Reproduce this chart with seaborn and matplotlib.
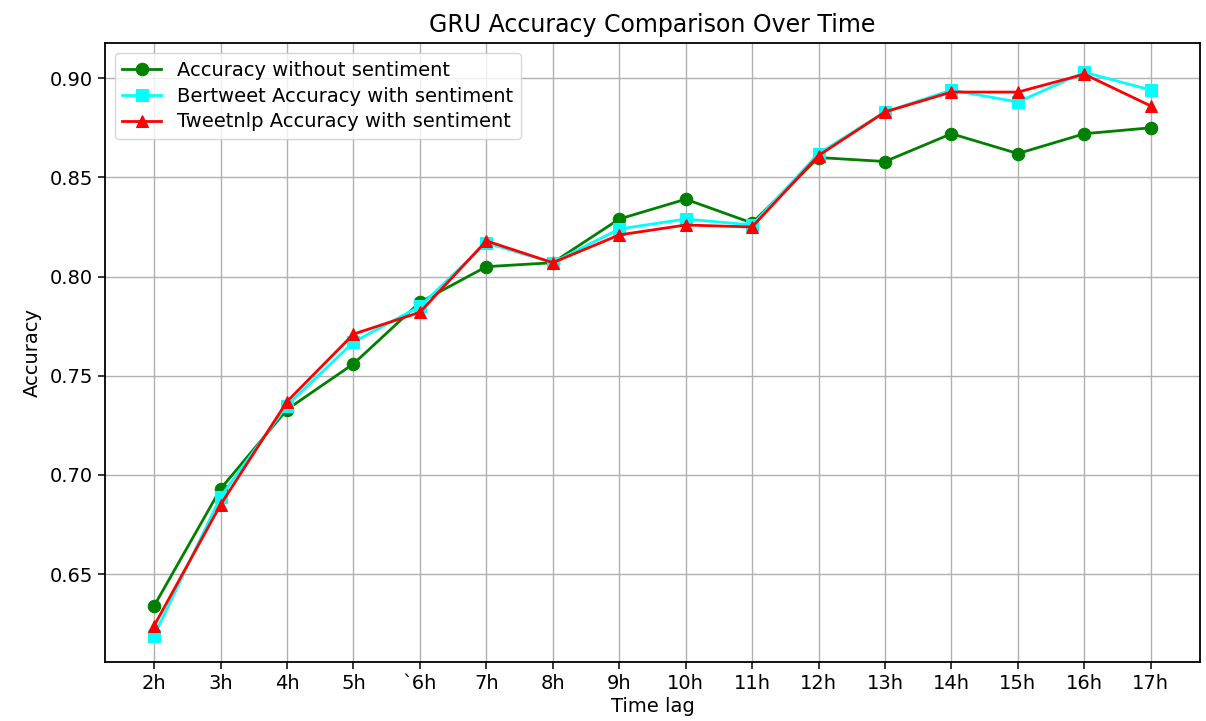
import matplotlib
matplotlib.use("Agg")
import matplotlib.pyplot as plt
import seaborn as sns
import pandas as pd

time_lags = ["2h", "3h", "4h", "5h", "`6h", "7h", "8h", "9h", "10h", "11h",
             "12h", "13h", "14h", "15h", "16h", "17h"]
acc_no_sent = [0.634, 0.693, 0.733, 0.756, 0.787, 0.805, 0.807, 0.829, 0.839, 0.827,
               0.860, 0.858, 0.872, 0.862, 0.872, 0.875]
acc_bertweet = [0.619, 0.689, 0.735, 0.767, 0.785, 0.817, 0.807, 0.824, 0.829, 0.826,
                0.862, 0.883, 0.894, 0.888, 0.903, 0.894]
acc_tweetnlp = [0.624, 0.685, 0.737, 0.771, 0.782, 0.818, 0.807, 0.821, 0.826, 0.825,
                0.861, 0.883, 0.893, 0.893, 0.902, 0.886]

series_names = ["Accuracy without sentiment",
                "Bertweet Accuracy with sentiment",
                "Tweetnlp Accuracy with sentiment"]
series_vals = [acc_no_sent, acc_bertweet, acc_tweetnlp]
colors = ["green", "cyan", "red"]
markers = ["o", "s", "^"]

plt.rcParams['font.family'] = ['DejaVu Sans']
fig = plt.figure(figsize=(12.06, 7.21), dpi=100)
ax = fig.add_axes([0.087, 0.082, 0.908, 0.858])

x = list(range(len(time_lags)))
for name, vals, c, m in zip(series_names, series_vals, colors, markers):
    df = pd.DataFrame({"x": x, "y": vals})
    sns.lineplot(data=df, x="x", y="y", ax=ax, color=c, marker=m, markersize=9,
                 markeredgecolor=c, linewidth=2.0, label=name)

ax.set_xticks(x)
ax.set_xticklabels(time_lags, fontsize=14)
ax.tick_params(axis="y", labelsize=14)
ax.tick_params(length=5, width=1.1)
ax.set_xlim(-0.74, len(time_lags) - 1 + 0.74)
ax.set_ylim(0.6058, 0.9176)
ax.set_yticks([0.65, 0.70, 0.75, 0.80, 0.85, 0.90])
ax.set_yticklabels(["0.65", "0.70", "0.75", "0.80", "0.85", "0.90"])
ax.grid(True, color="#b0b0b0", linewidth=1.0)
ax.set_axisbelow(True)
ax.set_xlabel("Time lag", fontsize=14, labelpad=3)
ax.set_ylabel("Accuracy", fontsize=14, labelpad=6)
ax.set_title("GRU Accuracy Comparison Over Time", fontsize=17, pad=8)
for s in ax.spines.values():
    s.set_color("black")
    s.set_linewidth(1.3)
ax.legend(loc="upper left", fontsize=14, framealpha=0.8, borderpad=0.4,
          handlelength=2.0, labelspacing=0.35)

fig.savefig("out.png", dpi=100)
